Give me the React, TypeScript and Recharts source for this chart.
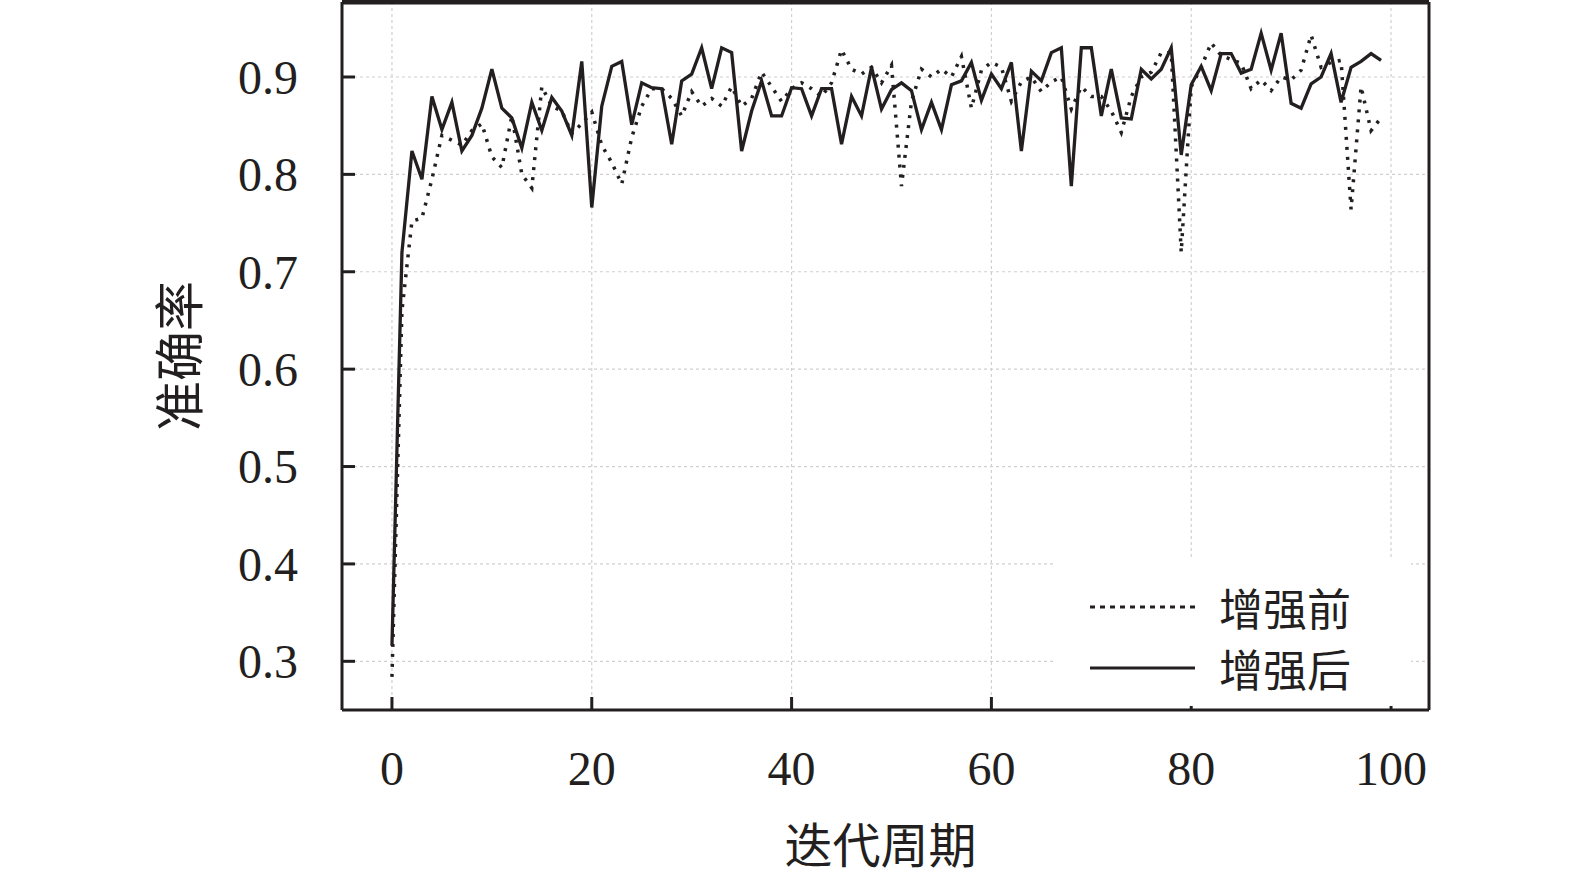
import React from "react";
import { CartesianGrid, Legend, Line, LineChart, ReferenceLine, XAxis, YAxis } from "recharts";

// accuracy per epoch (epoch = index)
const beforeAcc = [
  0.284, 0.66, 0.752, 0.755, 0.795, 0.84, 0.835, 0.83, 0.845, 0.852,
  0.818, 0.807, 0.86, 0.8, 0.786, 0.89, 0.87, 0.865, 0.842, 0.852,
  0.864, 0.83, 0.812, 0.79, 0.838, 0.87, 0.888, 0.888, 0.878, 0.86,
  0.885, 0.87, 0.878, 0.87, 0.89, 0.87, 0.878, 0.905, 0.89, 0.875,
  0.888, 0.894, 0.888, 0.88, 0.894, 0.928, 0.908, 0.903, 0.91, 0.894,
  0.912, 0.788, 0.875, 0.908, 0.9, 0.908, 0.9, 0.921, 0.868, 0.907,
  0.915, 0.91, 0.875, 0.895, 0.9, 0.885, 0.895, 0.9, 0.867, 0.89,
  0.88, 0.88, 0.865, 0.843, 0.88, 0.9, 0.905, 0.925, 0.925, 0.72,
  0.89, 0.91, 0.935, 0.922, 0.918, 0.914, 0.888, 0.897, 0.886, 0.9,
  0.897, 0.907, 0.943, 0.91, 0.915, 0.917, 0.764, 0.89, 0.845, 0.858,
];

const afterAcc = [
  0.316, 0.72, 0.824, 0.795, 0.88, 0.846, 0.874, 0.824, 0.84, 0.868,
  0.908, 0.868, 0.858, 0.827, 0.874, 0.845, 0.879, 0.865, 0.84, 0.916,
  0.766, 0.87, 0.911, 0.916, 0.851, 0.894, 0.889, 0.888, 0.831, 0.896,
  0.903, 0.93, 0.888, 0.93, 0.925, 0.824, 0.865, 0.896, 0.86, 0.86,
  0.889, 0.888, 0.86, 0.888, 0.888, 0.831, 0.88, 0.86, 0.91, 0.867,
  0.887, 0.894, 0.886, 0.846, 0.874, 0.846, 0.892, 0.896, 0.915, 0.876,
  0.903, 0.888, 0.915, 0.824, 0.906, 0.896, 0.925, 0.93, 0.788, 0.93,
  0.93, 0.86, 0.908, 0.858, 0.857, 0.908, 0.898, 0.908, 0.93, 0.82,
  0.892, 0.911, 0.886, 0.924, 0.924, 0.904, 0.908, 0.945, 0.907, 0.945,
  0.873, 0.868, 0.893, 0.9, 0.924, 0.874, 0.91, 0.916, 0.924, 0.917,
];

const xTicks = [0, 20, 40, 60, 80, 100];
const yTicks = [0.3, 0.4, 0.5, 0.6, 0.7, 0.8, 0.9];
const xDomain = [-5, 103.8];
const yDomain = [0.25, 0.977];

const seriesNames = ["增强前", "增强后"];
const xTitle = "迭代周期";
const yTitle = "准确率";

const data = afterAcc.map((v, i) => ({ epoch: i, before: beforeAcc[i], after: v }));

const INK = "#231f20";
const SERIF = '"Liberation Serif", "Times New Roman", serif';
const CJK = '"Noto Sans CJK SC", "Noto Sans", sans-serif';
const TICK_LEN = 13;
const X_MARGIN = 41;
const Y_MARGIN = 44;

function XTick(props: any) {
  const { x, y, payload } = props;
  const axisY = y - X_MARGIN;
  return (
    <g>
      <line x1={x} x2={x} y1={axisY} y2={axisY - TICK_LEN} stroke={INK} strokeWidth={3} />
      <text x={x} y={y} dy="0.71em" textAnchor="middle" fill={INK} fontFamily={SERIF} fontSize={48}>
        {payload.value}
      </text>
    </g>
  );
}

function YTick(props: any) {
  const { x, y, payload } = props;
  const axisX = x + Y_MARGIN;
  return (
    <g>
      <line x1={axisX} x2={axisX + TICK_LEN} y1={y} y2={y} stroke={INK} strokeWidth={3} />
      <text x={x} y={y} dy="0.35em" textAnchor="end" fill={INK} fontFamily={SERIF} fontSize={48}>
        {Number(payload.value).toFixed(1)}
      </text>
    </g>
  );
}

function YTitle(props: any) {
  const vb = props.viewBox || { y: 2, height: 708 };
  const cx = 176;
  const cy = vb.y + vb.height / 2;
  return (
    <text
      x={cx}
      y={cy}
      transform={`rotate(-90 ${cx} ${cy})`}
      textAnchor="middle"
      dominantBaseline="central"
      fill={INK}
      fontFamily={CJK}
      fontSize={50}
    >
      {yTitle}
    </text>
  );
}

function XTitle(props: any) {
  const vb = props.viewBox || { x: 342, width: 1079 };
  const cx = vb.x + vb.width / 2 - 5;
  return (
    <text x={cx} y={842} textAnchor="middle" dominantBaseline="central" fill={INK} fontFamily={CJK} fontSize={48}>
      {xTitle}
    </text>
  );
}

function LegendBox() {
  return (
    <div style={{ background: "#fff", width: 358, height: 146 }}>
      <svg width={358} height={146}>
        <line x1={37} x2={145} y1={47} y2={47} stroke={INK} strokeWidth={3} strokeDasharray="5 5" />
        <line x1={37} x2={142} y1={108} y2={108} stroke={INK} strokeWidth={3} />
        <text x={166} y={47} dominantBaseline="central" fill={INK} fontFamily={CJK} fontSize={44}>
          {seriesNames[0]}
        </text>
        <text x={166} y={108} dominantBaseline="central" fill={INK} fontFamily={CJK} fontSize={44}>
          {seriesNames[1]}
        </text>
      </svg>
    </div>
  );
}

export default function App() {
  return (
    <div style={{ position: "absolute", left: 0, top: 0, background: "#fff" }}>
      <LineChart width={1575} height={879} data={data} margin={{ top: 2, right: 146, bottom: 0, left: 0 }}>
        <CartesianGrid stroke="#d0d0d0" strokeDasharray="3 3" strokeWidth={1.2} />
        <XAxis
          dataKey="epoch"
          type="number"
          domain={xDomain}
          ticks={xTicks}
          allowDataOverflow
          height={169}
          tickSize={0}
          tickLine={false}
          tickMargin={X_MARGIN}
          tick={<XTick />}
          axisLine={{ stroke: INK, strokeWidth: 3 }}
          label={<XTitle />}
        />
        <YAxis
          type="number"
          domain={yDomain}
          ticks={yTicks}
          allowDataOverflow
          width={342}
          tickSize={0}
          tickLine={false}
          tickMargin={Y_MARGIN}
          tick={<YTick />}
          axisLine={{ stroke: INK, strokeWidth: 3 }}
          label={<YTitle />}
        />
        <ReferenceLine y={yDomain[1]} stroke={INK} strokeWidth={5} ifOverflow="visible" />
        <ReferenceLine x={xDomain[1]} stroke={INK} strokeWidth={3} ifOverflow="visible" />
        <Legend
          layout="vertical"
          align="center"
          verticalAlign="middle"
          content={() => <LegendBox />}
          wrapperStyle={{ left: 1053, top: 560, width: 358, height: 146 }}
        />
        <Line
          dataKey="before"
          name={seriesNames[0]}
          stroke={INK}
          strokeWidth={3.5}
          strokeDasharray="3 7"
          dot={false}
          isAnimationActive={false}
        />
        <Line
          dataKey="after"
          name={seriesNames[1]}
          stroke={INK}
          strokeWidth={3.3}
          dot={false}
          isAnimationActive={false}
        />
      </LineChart>
    </div>
  );
}
